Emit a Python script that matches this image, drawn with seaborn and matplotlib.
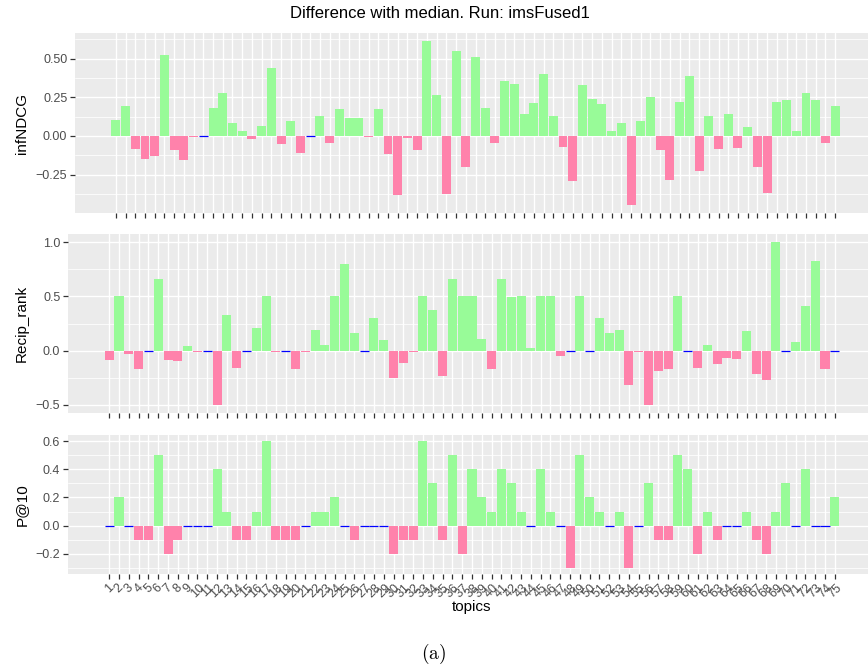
import matplotlib
matplotlib.use("Agg")
import matplotlib.pyplot as plt
import seaborn as sns
import numpy as np
import pandas as pd

topics = [str(i) for i in range(1, 76)]

infNDCG = [0.100, 0.195, -0.086, -0.150, -0.133, 0.523, -0.092, -0.159, -0.009, 0.0,
           0.182, 0.279, 0.086, 0.034, -0.021, 0.066, 0.440, -0.054, 0.099, -0.111,
           0.0, 0.131, -0.047, 0.176, 0.118, 0.118, -0.009, 0.176, -0.118, -0.381,
           -0.015, -0.092, 0.613, 0.266, -0.375, 0.549, -0.200, 0.510, 0.182, -0.047,
           0.356, 0.336, 0.144, 0.214, 0.400, 0.131, -0.073, -0.291, 0.330, 0.240,
           0.208, 0.034, 0.086, -0.446, 0.099, 0.251, -0.092, -0.285, 0.220, 0.388,
           -0.227, 0.131, -0.086, 0.144, -0.079, 0.060, -0.200, -0.369, 0.220, 0.233,
           0.034, 0.279, 0.233, -0.047, 0.195]

recip_rank = [-0.087, 0.500, -0.033, -0.169, 0.0, 0.663, -0.087, -0.096, 0.039, -0.009,
              0.0, -0.500, 0.328, -0.160, 0.0, 0.210, 0.500, -0.015, 0.0, -0.169,
              -0.015, 0.193, 0.048, 0.500, 0.798, 0.166, 0.0, 0.301, 0.102, -0.250,
              -0.114, -0.015, 0.500, 0.373, -0.238, 0.663, 0.500, 0.500, 0.111, -0.169,
              0.663, 0.490, 0.500, 0.020, 0.500, 0.500, -0.051, 0.0, 0.500, 0.0,
              0.301, 0.166, 0.193, -0.319, -0.015, -0.500, -0.184, -0.166, 0.500, 0.0,
              -0.157, 0.048, -0.120, -0.066, -0.075, 0.184, -0.220, -0.274, 1.000, 0.0,
              0.084, 0.410, 0.825, -0.166, 0.0]

p_at_10 = [0.0, 0.2, 0.0, -0.1, -0.1, 0.5, -0.2, -0.1, 0.0, 0.0,
           0.0, 0.4, 0.1, -0.1, -0.1, 0.1, 0.6, -0.1, -0.1, -0.1,
           0.0, 0.1, 0.1, 0.2, 0.0, -0.1, 0.0, 0.0, 0.0, -0.2,
           -0.1, -0.1, 0.6, 0.3, -0.1, 0.5, -0.2, 0.4, 0.2, 0.1,
           0.4, 0.3, 0.1, 0.0, 0.4, 0.1, 0.0, -0.3, 0.5, 0.2,
           0.1, 0.0, 0.1, -0.3, 0.0, 0.3, -0.1, -0.1, 0.5, 0.4,
           -0.2, 0.1, -0.1, 0.0, 0.0, 0.1, -0.1, -0.2, 0.1, 0.3,
           0.0, 0.4, 0.0, 0.0, 0.2]

metric_names = ["infNDCG", "Recip_rank", "P@10"]
y_ticks = [[-0.25, 0.0, 0.25, 0.5], [-0.5, 0.0, 0.5, 1.0], [-0.2, 0.0, 0.2, 0.4, 0.6]]
y_ticklabels = [["\u22120.25", "0.00", "0.25", "0.50"],
                ["\u22120.5", "0.0", "0.5", "1.0"],
                ["\u22120.2", "0.0", "0.2", "0.4", "0.6"]]
title = "Difference with median. Run: imsFused1"

POS = "#98FB98"
NEG = "#FF82AB"
ZERO_EDGE = "#0000FF"

sns.set_theme(style="darkgrid", rc={
    "axes.facecolor": "#EBEBEB",
    "grid.color": "white",
    "axes.edgecolor": "none",
    "xtick.color": "#333333",
    "ytick.color": "#333333",
    "xtick.major.size": 3.5,
    "ytick.major.size": 3.5,
    "xtick.major.width": 0.9,
    "ytick.major.width": 0.9,
    "xtick.bottom": True,
    "ytick.left": True,
    "xtick.major.pad": 2,
    "ytick.major.pad": 2,
})
plt.rcParams["font.family"] = ["Liberation Sans", "DejaVu Sans"]
plt.rcParams["mathtext.fontset"] = "cm"

W, H = 868, 669
fig = plt.figure(figsize=(W / 100, H / 100), dpi=100)

# panel rectangles in pixels: left, top, right, bottom
rects = [(75, 33, 876, 213), (68, 234, 876, 413), (68, 435, 876, 574)]
series = [infNDCG, recip_rank, p_at_10]

for k, (vals, name, (l, t, r, b)) in enumerate(zip(series, metric_names, rects)):
    ax = fig.add_axes([l / W, 1 - b / H, (r - l) / W, (b - t) / H])
    df = pd.DataFrame({"topic": topics, "value": vals})
    colors = [POS if v > 0 else NEG for v in vals]
    sns.barplot(data=df, x="topic", y="value", hue="topic", palette=colors,
                width=0.92, legend=False, ax=ax, saturation=1, linewidth=0)
    for p in ax.patches:
        if p.get_height() == 0:
            p.set_edgecolor(ZERO_EDGE)
            p.set_linewidth(0.9)
    ax.set_yticks(y_ticks[k])
    ax.set_yticklabels(y_ticklabels[k], fontsize=9, color="#4D4D4D")
    step = y_ticks[k][1] - y_ticks[k][0]
    minors = [v + step / 2 for v in [y_ticks[k][0] - step] + y_ticks[k]]
    ax.set_yticks(minors, minor=True)
    ax.tick_params(axis="y", which="minor", length=0)
    vmin, vmax = min(vals), max(vals)
    pad = 0.05 * (vmax - vmin)
    ax.set_ylim(vmin - pad, vmax + pad)
    ax.set_xlim(-4.2, 74 + 4.2)
    ax.grid(True, which="major", color="white", linewidth=1.0)
    ax.grid(True, which="minor", axis="y", color="white", linewidth=0.55)
    ax.set_axisbelow(True)
    ax.set_xlabel("")
    ax.set_ylabel(name, fontsize=11, color="black", va="center")
    ax.yaxis.set_label_coords((22 - l) / (r - l), 0.5)
    if k < 2:
        ax.tick_params(axis="x", labelbottom=False)
    else:
        ax.tick_params(axis="x", labelsize=9, labelcolor="#4D4D4D")
        for lab in ax.get_xticklabels():
            lab.set_rotation(45)
            lab.set_ha("center")
            lab.set_va("top")
    for s in ax.spines.values():
        s.set_visible(False)

fig.text(440 / W, 1 - 13 / H, title, ha="center", va="center", fontsize=12, color="black")
fig.text(472 / W, 1 - 607 / H, "topics", ha="center", va="center", fontsize=11, color="black")
fig.text(434 / W, 1 - 654 / H, r"$\mathrm{(a)}$", ha="center", va="center", fontsize=14, color="black")

fig.savefig("out.png", dpi=100)
